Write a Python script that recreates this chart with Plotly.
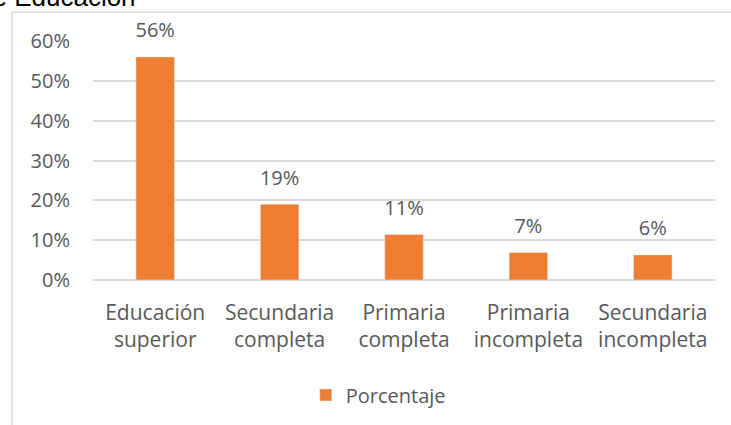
import plotly.graph_objects as go

categorias = ["Educación<br>superior", "Secundaria<br>completa", "Primaria<br>completa",
              "Primaria<br>incompleta", "Secundaria<br>incompleta"]
porcentaje = [0.56, 0.19, 0.114, 0.069, 0.063]
etiquetas = ["56%", "19%", "11%", "7%", "6%"]
ticks_y = [0, 0.1, 0.2, 0.3, 0.4, 0.5, 0.6]

naranja = "#ED7D31"
gris = "#595959"
linea = "#D9D9D9"

fig = go.Figure()

fig.add_trace(go.Bar(
    x=categorias,
    y=porcentaje,
    name="Porcentaje",
    marker_color=naranja,
    width=0.31,
))

# data labels floated above bars
fig.add_trace(go.Scatter(
    x=categorias,
    y=porcentaje,
    mode="markers+text",
    text=etiquetas,
    textposition="top center",
    textfont=dict(size=20, color=gris),
    marker=dict(size=22, color="rgba(0,0,0,0)"),
    cliponaxis=False,
    showlegend=False,
    hoverinfo="skip",
))

# chart area frame (left and top edges visible)
fig.add_shape(type="line", xref="paper", yref="paper",
              x0=-0.1302, x1=-0.1302, y0=1.1208, y1=-0.62,
              line=dict(color=linea, width=1.5))
fig.add_shape(type="line", xref="paper", yref="paper",
              x0=-0.1302, x1=1.05, y0=1.1208, y1=1.1208,
              line=dict(color=linea, width=1.5))

fig.add_annotation(
    text="Nivel de Educación", xref="paper", yref="paper",
    x=0.072, y=1.112, xanchor="right", yanchor="bottom",
    showarrow=False, font=dict(family="Liberation Sans", size=26, color="black"),
)

fig.update_layout(
    width=731, height=425,
    margin=dict(l=93, r=16, t=41, b=144),
    paper_bgcolor="white", plot_bgcolor="white",
    font=dict(family="Open Sans", size=20, color=gris),
    yaxis=dict(
        range=[0, 0.6], tickvals=ticks_y, tickformat=".0%",
        showgrid=True, gridcolor=linea, gridwidth=1.5,
        zeroline=True, zerolinecolor=linea, zerolinewidth=1.5,
        ticklabelstandoff=22, automargin=False,
    ),
    xaxis=dict(showgrid=False, ticks="", tickangle=0, ticklabelstandoff=18,
               tickfont=dict(size=21), automargin=False),
    legend=dict(orientation="h", x=0.342, y=-0.475, xanchor="left", yanchor="middle",
                font=dict(size=20, color=gris)),
    showlegend=True,
)

fig.write_html("out.html", config={"displayModeBar": False},
               post_script="document.body.style.margin='0';")
